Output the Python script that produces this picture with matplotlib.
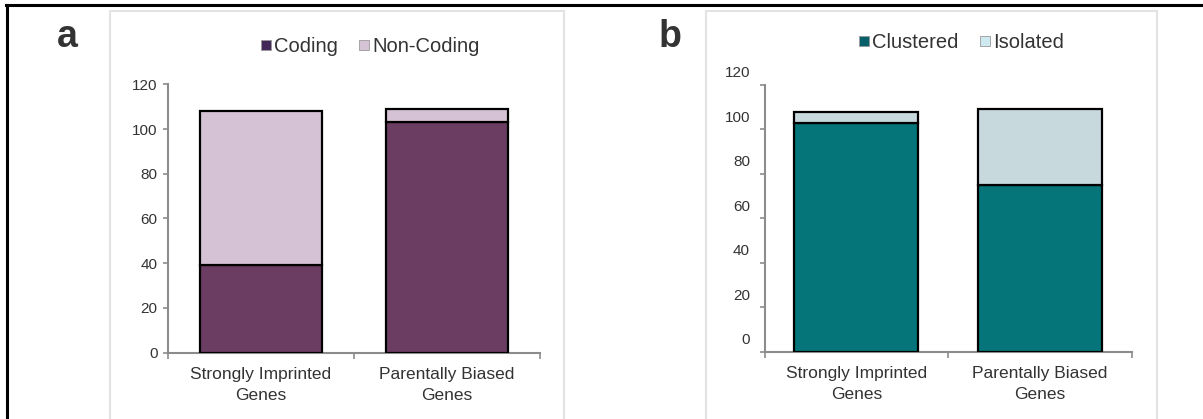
import matplotlib
matplotlib.use("Agg")
import matplotlib.pyplot as plt
import matplotlib.transforms as mtransforms
from matplotlib.lines import Line2D
from matplotlib.patches import Rectangle

plt.rcParams['font.family'] = ['Liberation Sans', 'DejaVu Sans']

# ---- data ----
categories = ['Strongly Imprinted\nGenes', 'Parentally Biased\nGenes']
coding = [39, 103]
non_coding = [69, 6]
clustered = [103, 75]
isolated = [5, 34]
y_ticks = [0, 20, 40, 60, 80, 100, 120]

W, H = 1203, 419
fig = plt.figure(figsize=(W / 100, H / 100), dpi=100)
fig.patch.set_facecolor('white')

TXT = '#333333'
AXC = '#8c8c8c'


def fx(px):
    return px / W


def fy(py):
    return 1 - py / H


# outer black frame (top + left, rest is cropped off)
fig.add_artist(Line2D([fx(6), 1], [fy(5.5), fy(5.5)], color='black', lw=2.2,
                      transform=fig.transFigure))
fig.add_artist(Line2D([fx(6.5), fx(6.5)], [fy(5.5), 0], color='black', lw=2.2,
                      transform=fig.transFigure))

# light grey chart-area boxes
for x0, x1 in [(110, 564), (705.5, 1157)]:
    fig.add_artist(Rectangle((fx(x0), fy(422)), fx(x1 - x0), fy(11) - fy(422),
                             transform=fig.transFigure, fill=False,
                             edgecolor='#e3e3e3', lw=1.5))


def style_axes(ax, bar_w, bottoms_c, tops_c, c1, c2, label_shift=0):
    x = [0, 1]
    ax.bar(x, bottoms_c, width=bar_w, color=c1, edgecolor='black', lw=1.6, zorder=3)
    ax.bar(x, tops_c, width=bar_w, bottom=bottoms_c, color=c2, edgecolor='black',
           lw=1.6, zorder=3)
    ax.set_xlim(-0.5, 1.5)
    ax.set_ylim(0, 120)
    ax.set_yticks(y_ticks)
    ax.set_xticks(x)
    ax.set_xticklabels(categories, fontsize=12.5, color=TXT, linespacing=1.55)
    ax.set_xticks([-0.5, 0.5, 1.5], minor=True)
    ax.tick_params(axis='x', which='major', length=0, pad=10)
    ax.tick_params(axis='x', which='minor', length=4, width=1.2, color=AXC,
                   direction='out')
    ax.tick_params(axis='y', length=3.5, width=1.2, color=AXC, direction='out',
                   labelsize=11, labelcolor=TXT, pad=4)
    for s in ['top', 'right']:
        ax.spines[s].set_visible(False)
    for s in ['left', 'bottom']:
        ax.spines[s].set_color(AXC)
        ax.spines[s].set_linewidth(1.5)
    if label_shift:
        off = mtransforms.ScaledTranslation(-3 / 72, label_shift / 72,
                                            fig.dpi_scale_trans)
        for lab in ax.get_yticklabels():
            lab.set_transform(lab.get_transform() + off)


# panel a
ax_a = fig.add_axes([fx(168), fy(352.7), fx(372), (352.7 - 84.3) / H])
style_axes(ax_a, 0.66, coding, non_coding, '#6b3d63', '#d5c3d5')

# panel b
ax_b = fig.add_axes([fx(764.6), fy(351.7), fx(367.4), (351.7 - 85) / H])
style_axes(ax_b, 0.675, clustered, isolated, '#06757a', '#c8d9de', label_shift=9.5)

# panel letters
fig.text(fx(57), fy(47), 'a', fontsize=27, fontweight='bold', color=TXT,
         va='baseline', ha='left')
fig.text(fx(659), fy(47), 'b', fontsize=27, fontweight='bold', color=TXT,
         va='baseline', ha='left')


def sq(c):
    return Line2D([], [], marker='s', ls='', markersize=7.3, markerfacecolor=c,
                  markeredgecolor='#999999', markeredgewidth=0.6)


leg_kw = dict(ncol=2, frameon=False, fontsize=14.5, handlelength=0.6,
              handletextpad=0.1, columnspacing=1.0, borderaxespad=0,
              labelcolor=TXT, loc='center')
fig.legend([sq('#45285a'), sq('#d5c3d5')], ['Coding', 'Non-Coding'],
           bbox_to_anchor=(fx(370), fy(47)), **leg_kw)
fig.legend([sq('#075f6a'), sq('#cfe9f1')], ['Clustered', 'Isolated'],
           bbox_to_anchor=(fx(961), fy(43)), **leg_kw)

fig.savefig('out.png', dpi=100, facecolor='white')
